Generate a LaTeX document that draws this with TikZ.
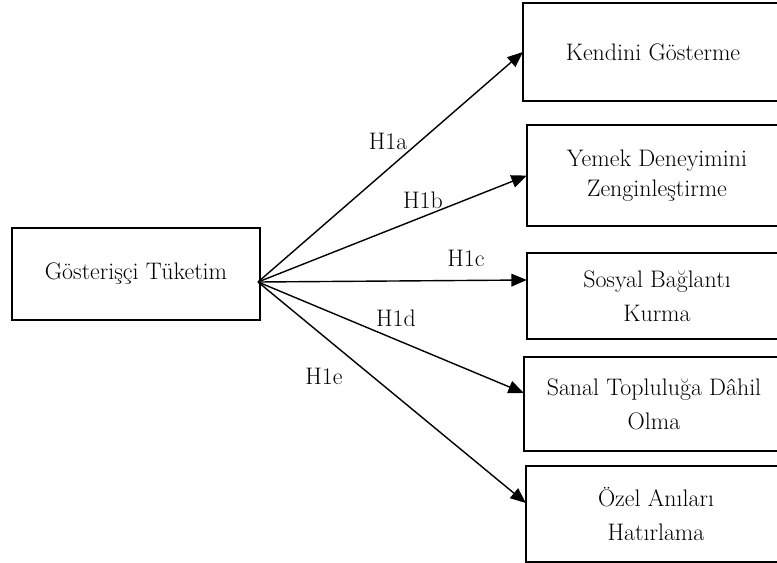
\documentclass[tikz,border=0pt]{standalone}
\usepackage{tikz}
\usetikzlibrary{arrows.meta}

\begin{document}
\begin{tikzpicture}[>={Triangle[length=11pt,width=9pt]}, font=\fontsize{17}{24}\selectfont,
  box/.style={draw, line width=1.6pt, minimum width=6.45cm, align=center},
  cell/.style={minimum width=6.45cm, align=center, outer sep=0.8pt},
  frame/.style={line width=1.6pt},
  path/.style={->, line width=1pt}]
\useasboundingbox (0,0) rectangle (19.425,-14.05);
\node (cons) at (3.4,-6.85) [box, minimum width=6.2cm, minimum height=2.3cm] {Gösterişçi Tüketim};
\coordinate (src) at (6.45,-7.05);
\node (show) at (16.325,-1.3) [cell, minimum height=2.4cm] {Kendini Gösterme};
\node (meal) at (16.425,-4.39) [cell, minimum height=2.475cm] {Yemek Deneyimini\\[-3pt] Zenginleştirme};
\node (social) at (16.425,-7.4) [cell, minimum height=2.1cm] {Sosyal Bağlantı\\ Kurma};
\node (virtual) at (16.35,-10.1) [cell, minimum height=2.3cm] {Sanal Topluluğa Dâhil\\ Olma};
\node (memory) at (16.4,-12.85) [cell, minimum height=2.35cm] {Özel Anıları\\ Hatırlama};
\foreach \b in {show,meal,social,virtual,memory}
  \draw[frame] ([xshift=2cm]\b.north east) -- (\b.north west) -- (\b.south west) -- ([xshift=2cm]\b.south east);
\draw[path] (src) -- (show.west);
\draw[path] (src) -- (meal.west);
\draw[path] (src) -- ([yshift=0.4cm]social.west);
\draw[path] (src) -- ([yshift=0.275cm]virtual.west);
\draw[path] (src) -- ([yshift=0.275cm]memory.west);
\node (h1a) at (9.7,-3.525) {H1a};
\node (h1b) at (10.575,-5.0) {H1b};
\node (h1c) at (11.65,-6.45) {H1c};
\node (h1d) at (9.9,-7.95) {H1d};
\node (h1e) at (8.1,-9.4) {H1e};
\end{tikzpicture}
\end{document}
